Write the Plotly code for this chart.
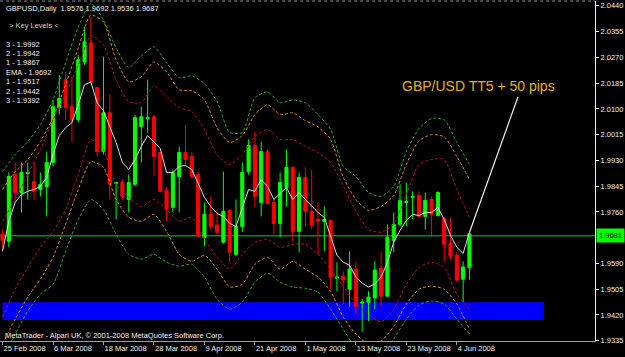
import pandas as pd
import plotly.graph_objects as go

# ---------------- data ----------------
dates = pd.bdate_range("2008-02-25", periods=75)
bars = list(range(75))

opens = [1.9686, 1.9663, 1.9883, 1.9824, 1.9887, 1.9860, 1.9834, 1.9844, 1.9923, 2.0104,
         2.0196, 2.0107, 2.0064, 2.0255, 2.0318, 2.0170, 1.9959, 2.0087, 1.9854, 1.9857,
         1.9801, 1.9851, 2.0041, 2.0068, 2.0074, 1.9956, 1.9831, 1.9775, 1.9877, 1.9956,
         1.9943, 1.9883, 1.9676, 1.9752, 1.9716, 1.9660, 1.9765, 1.9620, 1.9712, 1.9893,
         1.9979, 1.9791, 1.9959, 1.9791, 1.9722, 1.9841, 1.9907, 1.9696, 1.9874, 1.9762,
         1.9735, 1.9729, 1.9732, 1.9541, 1.9548, 1.9505, 1.9571, 1.9459, 1.9462, 1.9476,
         1.9574, 1.9482, 1.9666, 1.9719, 1.9791, 1.9808, 1.9814, 1.9745, 1.9801, 1.9748,
         1.9739, 1.9657, 1.9617, 1.9538, 1.9576]
highs = [1.9703, 1.9890, 1.9923, 1.9923, 1.9923, 1.9923, 1.9890, 1.9959, 2.0130, 2.0212,
         2.0222, 2.0206, 2.0278, 2.0370, 2.0403, 2.0173, 2.0272, 2.0147, 1.9860, 1.9867,
         1.9883, 2.0081, 2.0107, 2.0196, 2.0081, 1.9959, 1.9841, 1.9900, 1.9976, 2.0048,
         1.9956, 1.9893, 1.9791, 1.9811, 1.9768, 1.9893, 1.9768, 1.9801, 1.9923, 1.9999,
         2.0025, 1.9992, 1.9966, 1.9801, 1.9890, 1.9966, 1.9910, 1.9890, 1.9907, 1.9900,
         1.9791, 1.9778, 1.9735, 1.9594, 1.9564, 1.9630, 1.9594, 1.9472, 1.9498, 1.9597,
         1.9627, 1.9719, 1.9758, 1.9851, 1.9857, 1.9828, 1.9828, 1.9824, 1.9811, 1.9828,
         1.9742, 1.9742, 1.9627, 1.9597, 1.9692]
lows = [1.9637, 1.9643, 1.9791, 1.9758, 1.9801, 1.9801, 1.9811, 1.9745, 1.9910, 2.0081,
        2.0064, 1.9992, 2.0055, 2.0245, 2.0183, 1.9943, 1.9949, 1.9801, 1.9735, 1.9801,
        1.9758, 1.9844, 1.9923, 2.0022, 1.9877, 1.9824, 1.9729, 1.9758, 1.9758, 1.9910,
        1.9873, 1.9676, 1.9647, 1.9702, 1.9686, 1.9655, 1.9594, 1.9614, 1.9693, 1.9883,
        1.9775, 1.9745, 1.9785, 1.9686, 1.9676, 1.9778, 1.9663, 1.9627, 1.9712, 1.9702,
        1.9620, 1.9630, 1.9505, 1.9498, 1.9456, 1.9446, 1.9423, 1.9364, 1.9400, 1.9439,
        1.9449, 1.9479, 1.9627, 1.9712, 1.9712, 1.9735, 1.9742, 1.9702, 1.9676, 1.9745,
        1.9594, 1.9604, 1.9528, 1.9462, 1.9536]
closes = [1.9666, 1.9877, 1.9824, 1.9890, 1.9890, 1.9828, 1.9851, 1.9923, 2.0107, 2.0134,
          2.0104, 2.0064, 2.0262, 2.0321, 2.0189, 1.9959, 2.0087, 1.9851, 1.9857, 1.9811,
          1.9857, 2.0071, 2.0074, 2.0071, 1.9943, 1.9828, 1.9768, 1.9890, 1.9956, 1.9933,
          1.9877, 1.9680, 1.9752, 1.9712, 1.9693, 1.9762, 1.9627, 1.9712, 1.9890, 1.9979,
          1.9811, 1.9959, 1.9788, 1.9722, 1.9857, 1.9907, 1.9696, 1.9874, 1.9762, 1.9716,
          1.9729, 1.9735, 1.9545, 1.9545, 1.9535, 1.9571, 1.9449, 1.9462, 1.9479, 1.9568,
          1.9482, 1.9676, 1.9719, 1.9798, 1.9795, 1.9811, 1.9745, 1.9798, 1.9752, 1.9824,
          1.9653, 1.9614, 1.9535, 1.9578, 1.9687]

ema = [1.9630, 1.9729, 1.9791, 1.9818, 1.9828, 1.9834, 1.9844, 1.9874, 1.9949, 2.0012,
       2.0038, 2.0055, 2.0114, 2.0180, 2.0189, 2.0120, 2.0094, 2.0041, 1.9989, 1.9923,
       1.9900, 1.9933, 1.9976, 2.0012, 1.9992, 1.9969, 1.9890, 1.9890, 1.9910, 1.9913,
       1.9900, 1.9851, 1.9808, 1.9778, 1.9755, 1.9745, 1.9722, 1.9712, 1.9771, 1.9834,
       1.9828, 1.9867, 1.9844, 1.9801, 1.9821, 1.9841, 1.9801, 1.9824, 1.9801, 1.9778,
       1.9758, 1.9742, 1.9683, 1.9617, 1.9594, 1.9584, 1.9545, 1.9525, 1.9512, 1.9522,
       1.9545, 1.9594, 1.9660, 1.9699, 1.9732, 1.9752, 1.9748, 1.9758, 1.9758, 1.9775,
       1.9735, 1.9683, 1.9643, 1.9623, 1.9692]

band_bars = list(range(0, 75, 2))
upper_green = [1.9893, 1.9949, 1.9992, 2.0048, 2.0130, 2.0252, 2.0370, 2.0449, 2.0393, 2.0301,
               2.0236, 2.0275, 2.0305, 2.0252, 2.0203, 2.0209, 2.0183, 2.0124, 2.0022, 2.0022,
               2.0137, 2.0156, 2.0120, 2.0130, 2.0120, 2.0081, 2.0032, 1.9910, 1.9877, 1.9824,
               1.9811, 1.9844, 1.9959, 2.0035, 2.0068, 2.0064, 1.9989, 1.9917]
upper_orange = [1.9834, 1.9893, 1.9933, 1.9992, 2.0071, 2.0180, 2.0301, 2.0410, 2.0387, 2.0262,
                2.0189, 2.0206, 2.0255, 2.0222, 2.0163, 2.0160, 2.0130, 2.0038, 1.9989, 2.0012,
                2.0081, 2.0114, 2.0081, 2.0087, 2.0061, 2.0041, 1.9999, 1.9874, 1.9801, 1.9765,
                1.9778, 1.9814, 1.9917, 1.9995, 2.0015, 2.0008, 1.9943, 1.9867]
upper_red = [1.9729, 1.9801, 1.9883, 1.9966, 2.0064, 2.0147, 2.0245, 2.0341, 2.0311, 2.0196,
             2.0124, 2.0120, 2.0176, 2.0140, 2.0104, 2.0091, 2.0032, 1.9949, 1.9916, 1.9949,
             2.0009, 2.0032, 1.9999, 1.9999, 1.9976, 1.9956, 1.9923, 1.9847, 1.9762, 1.9702,
             1.9693, 1.9719, 1.9818, 1.9916, 1.9933, 1.9933, 1.9834, 1.9742]
lower_red = [1.9413, 1.9505, 1.9577, 1.9643, 1.9696, 1.9768, 1.9883, 1.9999, 1.9966, 1.9851,
             1.9808, 1.9778, 1.9801, 1.9768, 1.9729, 1.9742, 1.9670, 1.9611, 1.9571, 1.9620,
             1.9660, 1.9670, 1.9643, 1.9653, 1.9653, 1.9620, 1.9571, 1.9515, 1.9456, 1.9423,
             1.9397, 1.9439, 1.9521, 1.9577, 1.9594, 1.9577, 1.9488, 1.9439]
lower_orange = [1.9324, 1.9406, 1.9479, 1.9538, 1.9610, 1.9719, 1.9834, 1.9926, 1.9907, 1.9801,
                1.9742, 1.9729, 1.9752, 1.9696, 1.9620, 1.9597, 1.9617, 1.9571, 1.9512, 1.9521,
                1.9587, 1.9610, 1.9571, 1.9597, 1.9571, 1.9545, 1.9498, 1.9413, 1.9357, 1.9324,
                1.9334, 1.9383, 1.9456, 1.9505, 1.9515, 1.9505, 1.9456, 1.9373]
lower_green = [1.9275, 1.9357, 1.9433, 1.9489, 1.9521, 1.9630, 1.9735, 1.9801, 1.9768, 1.9686,
               1.9620, 1.9604, 1.9620, 1.9594, 1.9581, 1.9587, 1.9545, 1.9472, 1.9439, 1.9462,
               1.9528, 1.9558, 1.9528, 1.9512, 1.9508, 1.9495, 1.9439, 1.9373, 1.9308, 1.9258,
               1.9275, 1.9341, 1.9406, 1.9453, 1.9466, 1.9456, 1.9406, 1.9357]

key_levels = ["3 - 1.9992", "2 - 1.9942", "1 - 1.9867", "EMA - 1.9692",
              "1 - 1.9517", "2 - 1.9442", "3 - 1.9392"]
y_ticks = [2.0440, 2.0355, 2.0270, 2.0185, 2.0100, 2.0015, 1.9930, 1.9845,
           1.9760, 1.9590, 1.9505, 1.9420, 1.9335]
tick_bars = list(range(0, 75, 8))
tick_labels = [f"{dates[i].day} {dates[i].strftime('%b %Y')}" for i in tick_bars]
bid_price = 1.9681
zone_low, zone_high = 1.9403, 1.9462
zone_start_bar, zone_end_bar = 0.0, 85.8
note_text = "GBP/USD TT5 + 50 pips"
note_bar, note_price = 75.5, 2.0176
pointer_end_bar, pointer_end_price = 81.7, 2.0140
title_text = "GBPUSD,Daily  1.9576 1.9692 1.9536 1.9687"
copyright_text = "MetaTrader - Alpari UK, \u00a9 2001-2008 MetaQuotes Software Corp."

# ---------------- figure ----------------
FONT = "Liberation Sans, Arial, sans-serif"
fig = go.Figure()

band_style = [
    (upper_green, "#1fae1f"), (upper_orange, "#d9860f"), (upper_red, "#b3171b"),
    (lower_red, "#b3171b"), (lower_orange, "#d9860f"), (lower_green, "#1fae1f"),
]
for vals, col in band_style:
    fig.add_trace(go.Scatter(x=band_bars, y=vals, mode="lines",
                             line=dict(color=col, width=1, dash="3px,2px", shape="spline", smoothing=0.6),
                             hoverinfo="skip"))

fig.add_trace(go.Candlestick(
    x=bars, open=opens, high=highs, low=lows, close=closes,
    increasing=dict(line=dict(color="#00ff00", width=1), fillcolor="#00ff00"),
    decreasing=dict(line=dict(color="#ff0000", width=1), fillcolor="#ff0000"),
    whiskerwidth=0,
))

fig.add_trace(go.Scatter(x=bars, y=ema, mode="lines",
                         line=dict(color="#dcdcdc", width=1), hoverinfo="skip"))

shapes = [
    dict(type="rect", xref="x", yref="y", x0=zone_start_bar, x1=zone_end_bar,
         y0=zone_low, y1=zone_high, fillcolor="#0000ff", line=dict(width=0), layer="below"),
    dict(type="line", xref="paper", yref="y", x0=0, x1=1, y0=bid_price, y1=bid_price,
         line=dict(color="#0a8a0a", width=1.5), layer="below"),
    dict(type="line", xref="x", yref="y", x0=bars[-1], y0=ema[-1],
         x1=pointer_end_bar, y1=pointer_end_price, line=dict(color="#f0f0f0", width=1.2)),
    dict(type="line", xref="paper", yref="paper", x0=0, x1=1, y0=1, y1=1,
         line=dict(color="#8a8a8a", width=1, dash="dot")),
]

annotations = [
    dict(text=title_text, xref="paper", yref="paper", x=0, y=1, xanchor="left", yanchor="middle",
         xshift=4, yshift=-7, showarrow=False, font=dict(family=FONT, size=7.5, color="#f0f0f0")),
    dict(text="&gt; Key Levels &lt;", xref="paper", yref="paper", x=0, y=1, xanchor="left",
         yanchor="middle", xshift=7, yshift=-24, showarrow=False,
         font=dict(family=FONT, size=7.5, color="#d0d0d0")),
    dict(text=copyright_text, xref="paper", yref="paper", x=0, y=0, xanchor="left", yanchor="middle",
         xshift=3, yshift=6, showarrow=False, font=dict(family=FONT, size=7.5, color="#f0f0f0")),
    dict(text=note_text, xref="x", yref="y", x=note_bar, y=note_price, xanchor="center",
         yanchor="middle", showarrow=False, font=dict(family=FONT, size=14, color="#e6b400")),
    dict(text=f"{bid_price:.4f}", xref="paper", yref="y", x=1, y=bid_price, xanchor="left",
         yanchor="middle", xshift=1, showarrow=False, bgcolor="#00ff00", borderpad=2,
         font=dict(family=FONT, size=7.5, color="#000000")),
]
for k, txt in enumerate(key_levels):
    annotations.append(dict(text=txt, xref="paper", yref="paper", x=0, y=1, xanchor="left",
                            yanchor="middle", xshift=4, yshift=-(43 + 9.4 * k), showarrow=False,
                            font=dict(family=FONT, size=7.5, color="#f0f0f0")))

fig.update_layout(
    width=625, height=357, margin=dict(l=0, r=30, t=1, b=16, autoexpand=False),
    paper_bgcolor="#000000", plot_bgcolor="#000000", showlegend=False,
    font=dict(family=FONT, size=7.5, color="#f0f0f0"),
    shapes=shapes, annotations=annotations,
    xaxis=dict(range=[-0.4, 93.9], tickvals=tick_bars, ticktext=tick_labels,
               tickangle=0, automargin=False,
               ticks="outside", ticklen=3, tickcolor="#a0a0a0", showline=True,
               linecolor="#a0a0a0", linewidth=1, showgrid=False, zeroline=False,
               ticklabelposition="outside right", rangeslider=dict(visible=False),
               tickfont=dict(family=FONT, size=7.5, color="#f0f0f0")),
    yaxis=dict(side="right", range=[1.9334, 2.0456], tickvals=y_ticks, tickformat=".4f",
               automargin=False,
               ticks="outside", ticklen=3, tickcolor="#f0f0f0", showline=True,
               linecolor="#f0f0f0", linewidth=1, showgrid=False, zeroline=False,
               tickfont=dict(family=FONT, size=7.5, color="#f0f0f0")),
)

fig.write_html("out.html")
